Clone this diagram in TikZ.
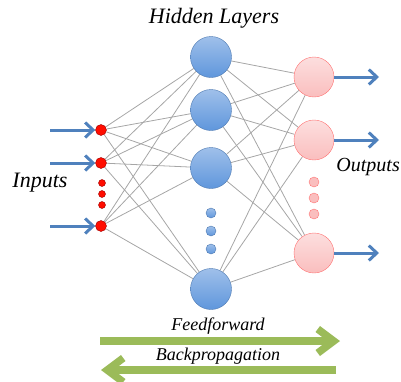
\documentclass[tikz,border=0pt]{standalone}
\usepackage{fontspec}
\setmainfont{Liberation Serif}
\usetikzlibrary{arrows.meta,positioning,backgrounds}

\definecolor{arrowblue}{RGB}{79,129,189}
\definecolor{hiddenblue}{RGB}{95,150,220}
\definecolor{outpink}{RGB}{250,190,190}
\definecolor{flowgreen}{RGB}{155,187,89}

\tikzset{
  innode/.style={circle,draw=red!60!black,fill=red!90!orange,minimum size=11pt,inner sep=0pt},
  indot/.style={circle,draw=red!60!black,fill=red!90!orange,minimum size=7pt,inner sep=0pt},
  hidnode/.style={circle,draw=hiddenblue!80!black,top color=hiddenblue!60!white,bottom color=hiddenblue,minimum size=41pt,inner sep=0pt},
  hiddot/.style={circle,draw=hiddenblue!80!black,top color=hiddenblue!60!white,bottom color=hiddenblue,minimum size=10pt,inner sep=0pt},
  outnode/.style={circle,draw=red!55!white,top color=outpink!50!white,bottom color=outpink,minimum size=40pt,inner sep=0pt},
  outdot/.style={circle,draw=red!55!white,fill=outpink,minimum size=10pt,inner sep=0pt},
  link/.style={gray!70,line width=0.8pt},
  signal/.style={arrowblue,line width=3pt,-{Straight Barb[length=8pt,width=15pt]}},
  flow/.style={flowgreen,line width=7.5pt,-{Straight Barb[length=16pt,width=24pt]}},
  lbl/.style={font=\fontsize{22}{26}\selectfont\itshape},
  flowlbl/.style={font=\fontsize{18}{21}\selectfont\itshape}
}

\begin{document}
\begin{tikzpicture}[x=1pt,y=-1pt]
  \useasboundingbox (0,0) rectangle (401,381);
  % Input layer
  \node[innode] (i1) at (101,130) {};
  \node[innode] (i2) at (101,163) {};
  \node[innode] (i3) at (101,226) {};
  \node[indot] (d1) at (102,183) {};
  \node[indot] (d2) at (102,194) {};
  \node[indot] (d3) at (102,205) {};
  % Hidden layer
  \node[hidnode] (h1) at (211,57) {};
  \node[hidnode] (h2) at (211,110) {};
  \node[hidnode] (h3) at (211,168) {};
  \node[hidnode] (h4) at (211,289) {};
  \node[hiddot] (e1) at (211,213) {};
  \node[hiddot] (e2) at (211,231) {};
  \node[hiddot] (e3) at (211,249) {};
  % Output layer
  \node[outnode] (o1) at (314,77) {};
  \node[outnode] (o2) at (314,140) {};
  \node[outnode] (o3) at (314,253) {};
  \node[outdot] (f1) at (314,182) {};
  \node[outdot] (f2) at (314,198) {};
  \node[outdot] (f3) at (314,214) {};
  % Connections
  \begin{scope}[on background layer]
    \foreach \i in {1,2,3}
      \foreach \h in {1,2,3,4}
        \draw[link] (i\i) -- (h\h);
    \foreach \h in {1,2,3,4}
      \foreach \o in {1,2,3}
        \draw[link] (h\h) -- (o\o);
  \end{scope}
  % Signal arrows
  \coordinate (a1) at (50,130);
  \coordinate (a2) at (50,163);
  \coordinate (a3) at (50,226);
  \coordinate (b1) at (379,77);
  \coordinate (b2) at (379,140);
  \coordinate (b3) at (379,253);
  \foreach \k in {1,2,3} {
    \draw[signal] (a\k) -- (i\k);
    \draw[signal] (o\k) -- (b\k);
  }
  % Labels
  \node[lbl] (hl) at (214,18) {Hidden Layers};
  \node[lbl] (il) at (40,183) {Inputs};
  \node[lbl,font=\fontsize{20}{24}\selectfont\itshape,anchor=east,inner xsep=1pt] (ol) at (401,167) {Outputs};
  % Training arrows
  \coordinate (ffs) at (100,341);
  \coordinate (ffe) at (340,341);
  \coordinate (bps) at (336,370);
  \coordinate (bpe) at (101,370);
  \draw[flow] (ffs) -- (ffe);
  \draw[flow] (bps) -- (bpe);
  \node[flowlbl] (ffl) at (218,326) {Feedforward};
  \node[flowlbl] (bpl) at (218,356) {Backpropagation};
\end{tikzpicture}
\end{document}
